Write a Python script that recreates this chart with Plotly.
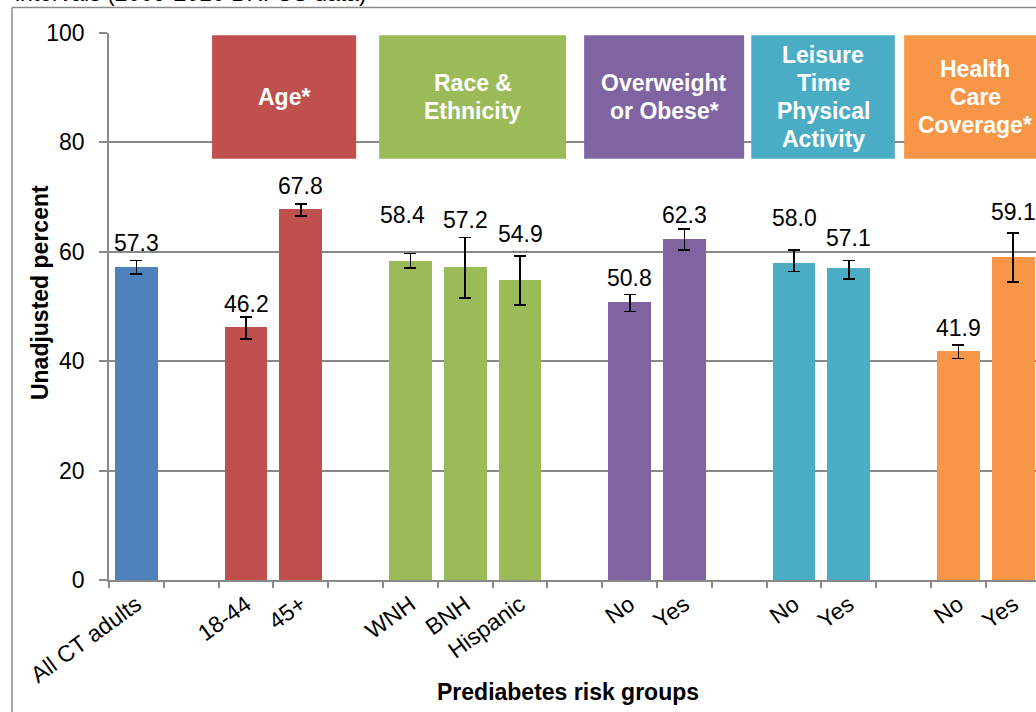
import plotly.graph_objects as go

# ---------------- data ----------------
categories = ["All CT adults", "", "18-44", "45+", "", "WNH", "BNH", "Hispanic", "",
              "No", "Yes", "", "No", "Yes", "", "No", "Yes"]
percent = [57.3, None, 46.2, 67.8, None, 58.4, 57.2, 54.9, None,
           50.8, 62.3, None, 58.0, 57.1, None, 41.9, 59.1]
ci_low = [56.0, None, 44.0, 66.5, None, 57.0, 51.6, 50.3, None,
          49.1, 60.3, None, 56.4, 55.1, None, 40.5, 54.5]
ci_high = [58.4, None, 48.1, 68.8, None, 59.7, 62.6, 59.3, None,
           52.2, 64.1, None, 60.3, 58.4, None, 43.0, 63.5]
group_of = [0, None, 1, 1, None, 2, 2, 2, None, 3, 3, None, 4, 4, None, 5, 5]
group_names = ["", "Age*", "Race &<br>Ethnicity", "Overweight<br>or Obese*",
               "Leisure<br>Time<br>Physical<br>Activity", "Health<br>Care<br>Coverage*"]
y_ticks = [0, 20, 40, 60, 80, 100]

# ---------------- styles / layout helpers ----------------
group_colors = ["#4F81BD", "#C0504D", "#9BBB59", "#8064A2", "#4BACC6", "#F79646"]
header_spans = {1: (1.38, 4.01), 2: (4.43, 7.84), 3: (8.17, 11.09),
                4: (11.22, 13.84), 5: (14.01, 16.6)}
header_y = (77.0, 99.6)
header_line_px = 27.7
label_dy = [18, 0, 13, 18, 0, 38, 18, 22, 0, 16, 14, 0, 32, 23, 0, 17, 21]
label_dx = [0, 0, 0, 0, 0, -8, 0, 0, 0, 0, 0, 0, 0, 0, 0, 0, 0]
FONT = "Liberation Sans, Arial, sans-serif"
GRID = "#898989"

idx = [i for i, v in enumerate(percent) if v is not None]
xs = idx
ys = [percent[i] for i in idx]
err_up = [round(ci_high[i] - percent[i], 2) for i in idx]
err_dn = [round(percent[i] - ci_low[i], 2) for i in idx]
colors = [group_colors[group_of[i]] for i in idx]

fig = go.Figure()
fig.add_trace(go.Bar(
    x=xs, y=ys, width=0.78,
    marker=dict(color=colors, line=dict(width=0)),
    error_y=dict(type="data", symmetric=False, array=err_up, arrayminus=err_dn,
                 color="black", thickness=1.8, width=6),
    hoverinfo="x+y", showlegend=False,
))

annotations = []
for i in idx:
    annotations.append(dict(
        x=i, y=ci_high[i], xref="x", yref="y", text=f"{percent[i]:.1f}",
        showarrow=False, yanchor="middle", xanchor="center",
        yshift=label_dy[i], xshift=label_dx[i],
        font=dict(family=FONT, size=23, color="black")))

shapes = []
for g, (x0, x1) in header_spans.items():
    shapes.append(dict(type="rect", xref="x", yref="y", x0=x0, x1=x1,
                       y0=header_y[0], y1=header_y[1],
                       fillcolor=group_colors[g], line=dict(width=0), layer="above"))
    lines = group_names[g].split("<br>")
    n = len(lines)
    for k, line in enumerate(lines):
        annotations.append(dict(
            x=(x0 + x1) / 2, y=(header_y[0] + header_y[1]) / 2, xref="x", yref="y",
            text=f"<b>{line}</b>", showarrow=False,
            xanchor="center", yanchor="middle",
            yshift=((n - 1) / 2 - k) * header_line_px,
            font=dict(family=FONT, size=23, color="white")))

# outer chart border (partially visible)
shapes.append(dict(type="line", xref="paper", yref="paper", x0=-0.1046, x1=-0.1046,
                   y0=1.0465, y1=-0.4, line=dict(color="#8a8a8a", width=1.5)))
shapes.append(dict(type="line", xref="paper", yref="paper", x0=-0.1046, x1=1.1,
                   y0=1.0465, y1=1.0465, line=dict(color="#8a8a8a", width=1.5)))

# cropped title text at the very top
annotations.append(dict(
    x=-0.1035, y=1.0455, xref="paper", yref="paper", xanchor="left", yanchor="bottom",
    text="intervals (2009-2010 BRFSS data)", showarrow=False,
    font=dict(family=FONT, size=23, color="black")))

# axis titles
annotations.append(dict(
    x=-0.0744, y=0.5246, xref="paper", yref="paper", textangle=-90,
    text="<b>Unadjusted percent</b>", showarrow=False, xanchor="center", yanchor="middle",
    font=dict(family=FONT, size=23, color="black")))
annotations.append(dict(
    x=0.4951, y=-0.2053, xref="paper", yref="paper",
    text="<b>Prediabetes risk groups</b>", showarrow=False, xanchor="center", yanchor="middle",
    font=dict(family=FONT, size=23, color="black")))

fig.update_layout(
    width=1036, height=712,
    margin=dict(l=109, r=0, t=32.5, b=131.5),
    paper_bgcolor="white", plot_bgcolor="white",
    font=dict(family=FONT, color="black"),
    bargap=0.0,
    shapes=shapes, annotations=annotations,
    xaxis=dict(
        range=[-0.5, 16.416], tickmode="array", tickvals=idx,
        ticktext=[categories[i] for i in idx], tickangle=-36,
        tickfont=dict(family=FONT, size=23, color="black"),
        ticks="", showgrid=False, zeroline=False,
        showline=True, linecolor=GRID, linewidth=2,
        minor=dict(tickmode="array", tickvals=[i - 0.5 for i in range(len(categories) + 1)],
                   ticks="outside", ticklen=6, tickcolor=GRID, tickwidth=1.5, showgrid=False),
    ),
    yaxis=dict(
        range=[0, 100], tickmode="array", tickvals=y_ticks,
        tickfont=dict(family=FONT, size=23, color="black"),
        ticks="outside", ticklen=8, tickcolor=GRID, tickwidth=1.5,
        ticklabelstandoff=10,
        showgrid=True, gridcolor=GRID, gridwidth=1.5, zeroline=False,
        showline=True, linecolor=GRID, linewidth=1.5,
    ),
)

fig.write_html("out.html", config={"displayModeBar": False},
               post_script="document.body.style.margin='0px';document.body.style.overflow='hidden';")
